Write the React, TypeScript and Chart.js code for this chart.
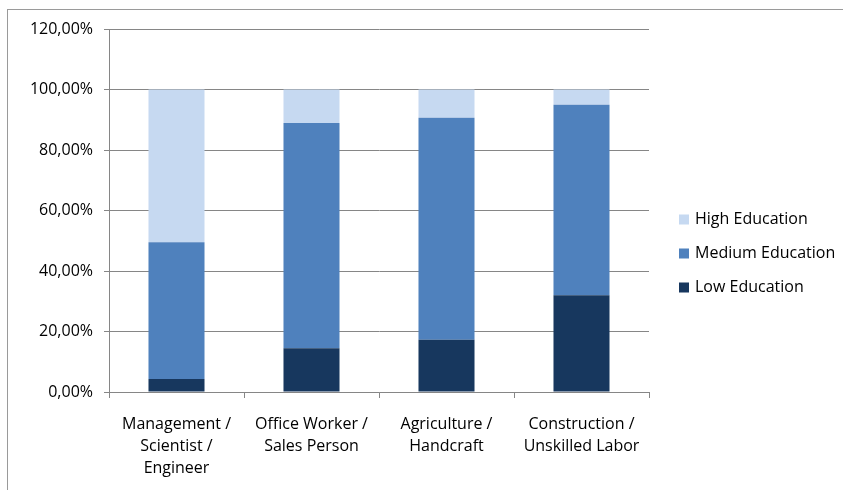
import React, { useEffect, useRef } from "react";
import { Chart, registerables } from "chart.js";

Chart.register(...registerables);

const categories: string[][] = [
  ["Management /", "Scientist /", "Engineer"],
  ["Office Worker /", "Sales Person"],
  ["Agriculture /", "Handcraft"],
  ["Construction /", "Unskilled Labor"],
];
const lowEducation = [4.3, 14.5, 17.3, 32.0];
const mediumEducation = [45.2, 74.4, 73.4, 63.0];
const highEducation = [50.5, 11.1, 9.3, 5.0];
const seriesLabels = ["Low Education", "Medium Education", "High Education"];
const seriesColors = ["#17375E", "#4F81BD", "#C6D9F1"];
const yMin = 0;
const yMax = 120;
const yStep = 20;

const FONT = "'Open Sans', sans-serif";

const legendPlugin = {
  id: "customLegend",
  afterDraw(chart: any) {
    const ctx = chart.ctx;
    const ds = chart.data.datasets;
    const area = chart.chartArea;
    const x = area.right + 30;
    const spacing = 34;
    const n = ds.length;
    const midY = 253.5;
    ctx.save();
    ctx.font = `16px ${FONT}`;
    ctx.textBaseline = "middle";
    ctx.textAlign = "left";
    for (let i = 0; i < n; i++) {
      const d = ds[n - 1 - i];
      const cy = midY + (i - (n - 1) / 2) * spacing;
      ctx.fillStyle = d.backgroundColor;
      ctx.fillRect(x, cy - 5, 10, 10);
      ctx.fillStyle = "#000";
      ctx.fillText(d.label, x + 16, cy);
    }
    ctx.restore();
  },
};

export default function App() {
  const ref = useRef<HTMLCanvasElement>(null);
  useEffect(() => {
    if (!ref.current) return;
    const values = [lowEducation, mediumEducation, highEducation];
    const chart = new Chart(ref.current, {
      type: "bar",
      data: {
        labels: categories as any,
        datasets: seriesLabels.map((label, i) => ({
          label,
          data: values[i],
          backgroundColor: seriesColors[i],
          borderWidth: 0,
          categoryPercentage: 1,
          barPercentage: 0.415,
        })),
      },
      options: {
        responsive: false,
        animation: false,
        layout: { padding: { top: 29, right: 194, bottom: 0, left: 0 } },
        plugins: {
          legend: { display: false },
          tooltip: { enabled: false },
        },
        scales: {
          x: {
            stacked: true,
            afterFit: (s: any) => {
              s.height = 98;
            },
            grid: {
              drawOnChartArea: false,
              drawTicks: true,
              tickLength: 6,
              color: "#868686",
              offset: true,
            },
            border: { color: "#868686" },
            ticks: {
              color: "#000",
              font: { family: FONT, size: 16, lineHeight: 1.375 },
              padding: 15,
              maxRotation: 0,
              autoSkip: false,
            },
          },
          y: {
            stacked: true,
            min: yMin,
            max: yMax,
            afterFit: (s: any) => {
              s.width = 109;
            },
            grid: {
              color: "#868686",
              tickLength: 5,
              drawTicks: true,
            },
            border: { color: "#868686" },
            ticks: {
              stepSize: yStep,
              color: "#000",
              padding: 11,
              font: { family: FONT, size: 16 },
              callback: (v: any) => Number(v).toFixed(2).replace(".", ",") + "%",
            },
          },
        },
      },
      plugins: [legendPlugin],
    });
    return () => chart.destroy();
  }, []);

  return (
    <div style={{ position: "fixed", left: 0, top: 0, width: 843, height: 490, background: "#fff" }}>
      <div
        style={{
          position: "absolute",
          left: 7,
          top: 9,
          width: 843,
          height: 490,
          borderTop: "1px solid #9a9a9a",
          borderLeft: "1px solid #9a9a9a",
        }}
      />
      <canvas ref={ref} width={843} height={490} style={{ position: "absolute", left: 0, top: 0 }} />
    </div>
  );
}
